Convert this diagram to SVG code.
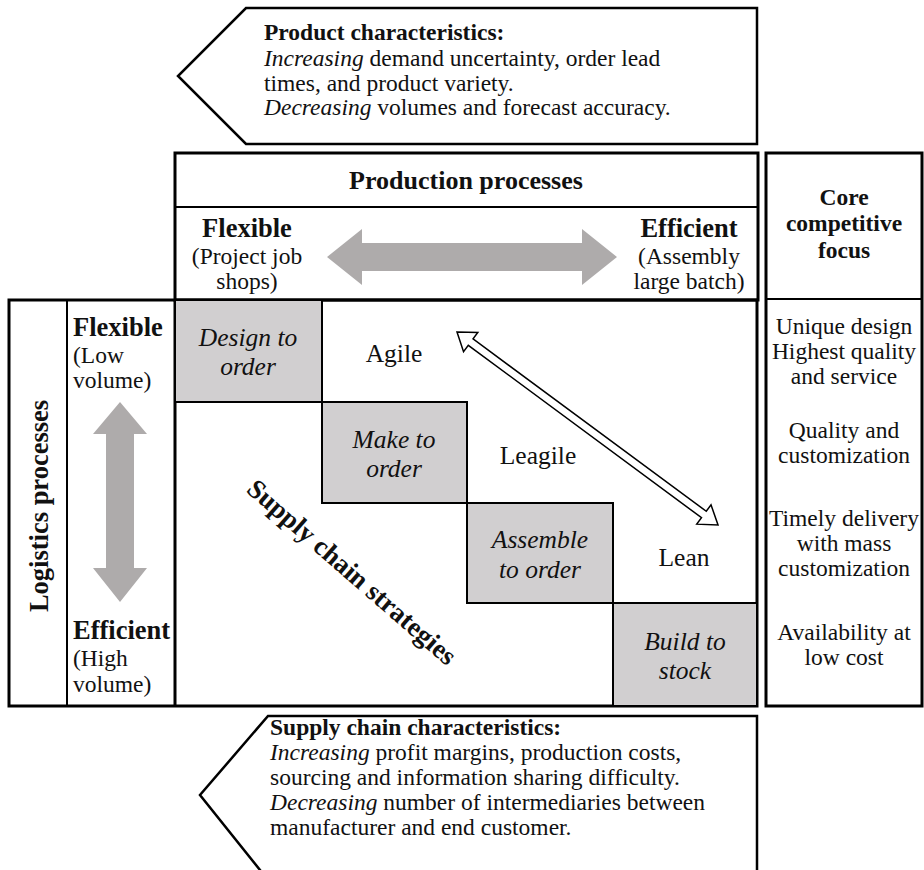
<svg xmlns="http://www.w3.org/2000/svg" width="924" height="870" viewBox="0 0 924 870">
  <style>
    text { font-family: "Liberation Serif", "Times New Roman", serif; fill: #111; }
    .body { font-size: 23.5px; }
    .bold { font-weight: bold; }
    .head { font-size: 26px; font-weight: bold; }
    .side { font-size: 26.5px; font-weight: bold; }
    .diag { font-size: 27px; font-weight: bold; }
    .cell { font-size: 25.5px; font-style: italic; }
    .lbl { font-size: 25.5px; }
    .it { font-style: italic; }
    .frame { fill: none; stroke: #000; stroke-width: 3; }
    .thin { fill: none; stroke: #000; stroke-width: 2; }
    .call { fill: #fff; stroke: #000; stroke-width: 2.5; stroke-linejoin: miter; }
    .box { fill: #d1cfd0; stroke: #000; stroke-width: 2; }
    .garrow { fill: #aeabab; stroke: none; }
    .harrow { fill: #fff; stroke: #000; stroke-width: 1.5; stroke-linejoin: miter; }
  </style>

  <!-- top callout: product characteristics -->
  <g id="product-characteristics">
    <polygon class="call" points="246,8 757,8 757,144 246,144 178,76"/>
    <text class="body" x="264" y="40"><tspan class="bold">Product characteristics:</tspan></text>
    <text class="body" x="264" y="66"><tspan class="it">Increasing</tspan> demand uncertainty, order lead</text>
    <text class="body" x="264" y="90.5">times, and product variety.</text>
    <text class="body" x="264" y="115"><tspan class="it">Decreasing</tspan> volumes and forecast accuracy.</text>
  </g>

  <!-- production processes header -->
  <g id="production-processes">
    <rect class="frame" x="175" y="153" width="583" height="147"/>
    <line class="thin" x1="175" y1="207" x2="758" y2="207"/>
    <text class="head" x="466" y="189" text-anchor="middle">Production processes</text>
    <text class="side" x="247" y="237" text-anchor="middle">Flexible</text>
    <text class="body" x="247" y="264" text-anchor="middle">(Project job</text>
    <text class="body" x="247" y="289" text-anchor="middle">shops)</text>
    <text class="side" x="689" y="237" text-anchor="middle">Efficient</text>
    <text class="body" x="689" y="264" text-anchor="middle">(Assembly</text>
    <text class="body" x="689" y="289" text-anchor="middle">large batch)</text>
  </g>

  <!-- core competitive focus column -->
  <g id="core-focus">
    <rect class="frame" x="766" y="153" width="156" height="553"/>
    <line class="thin" x1="766" y1="299" x2="922" y2="299"/>
    <g class="body" text-anchor="middle">
      <text class="bold" x="844" y="205">Core</text>
      <text class="bold" x="844" y="231">competitive</text>
      <text class="bold" x="844" y="258">focus</text>
      <text x="844" y="334">Unique design</text>
      <text x="844" y="359">Highest quality</text>
      <text x="844" y="384">and service</text>
      <text x="844" y="438">Quality and</text>
      <text x="844" y="463">customization</text>
      <text x="844" y="526">Timely delivery</text>
      <text x="844" y="551">with mass</text>
      <text x="844" y="576">customization</text>
      <text x="844" y="640">Availability at</text>
      <text x="844" y="665">low cost</text>
    </g>
  </g>

  <!-- main grid frame and logistics column -->
  <g id="logistics-processes">
    <rect class="frame" x="9" y="300" width="748" height="406"/>
    <line class="thin" x1="67" y1="300" x2="67" y2="706"/>
    <line class="frame" x1="175" y1="300" x2="175" y2="706"/>
    <text class="side" transform="translate(39,506) rotate(-90)" text-anchor="middle" dominant-baseline="central">Logistics processes</text>
    <text class="side" x="73" y="336">Flexible</text>
    <text class="body" x="73" y="363">(Low</text>
    <text class="body" x="73" y="388">volume)</text>
    <text class="side" x="73" y="639">Efficient</text>
    <text class="body" x="73" y="666">(High</text>
    <text class="body" x="73" y="692">volume)</text>
  </g>

  <!-- strategy cells -->
  <g id="design-to-order">
    <rect class="box" x="175" y="300" width="147" height="102"/>
    <text class="cell" x="248" y="346" text-anchor="middle">Design to</text>
    <text class="cell" x="248" y="375" text-anchor="middle">order</text>
  </g>
  <g id="make-to-order">
    <rect class="box" x="322" y="402" width="145" height="101"/>
    <text class="cell" x="394" y="448" text-anchor="middle">Make to</text>
    <text class="cell" x="394" y="477" text-anchor="middle">order</text>
  </g>
  <g id="assemble-to-order">
    <rect class="box" x="467" y="503" width="146" height="100"/>
    <text class="cell" x="540" y="548" text-anchor="middle">Assemble</text>
    <text class="cell" x="540" y="578" text-anchor="middle">to order</text>
  </g>
  <g id="build-to-stock">
    <rect class="box" x="613" y="603" width="144" height="103"/>
    <text class="cell" x="685" y="650" text-anchor="middle">Build to</text>
    <text class="cell" x="685" y="679" text-anchor="middle">stock</text>
  </g>

  <!-- strategy labels -->
  <g id="agile"><text class="lbl" x="394" y="362" text-anchor="middle">Agile</text></g>
  <g id="leagile"><text class="lbl" x="538" y="464" text-anchor="middle">Leagile</text></g>
  <g id="lean"><text class="lbl" x="684" y="566" text-anchor="middle">Lean</text></g>
  <g id="supply-chain-strategies">
    <text class="diag" transform="translate(352,572) rotate(41)" text-anchor="middle" dominant-baseline="central">Supply chain strategies</text>
  </g>

  <!-- bottom callout: supply chain characteristics -->
  <g id="supply-chain-characteristics">
    <polygon class="call" points="268,716 757,716 757,880 268,880 200,795"/>
    <text class="body" x="270" y="735"><tspan class="bold">Supply chain characteristics:</tspan></text>
    <text class="body" x="270" y="760"><tspan class="it">Increasing</tspan> profit margins, production costs,</text>
    <text class="body" x="270" y="785">sourcing and information sharing difficulty.</text>
    <text class="body" x="270" y="810"><tspan class="it">Decreasing</tspan> number of intermediaries between</text>
    <text class="body" x="270" y="835">manufacturer and end customer.</text>
  </g>

  <!-- connectors: double-headed arrows -->
  <g id="connectors">
    <polygon class="garrow" points="327,257 362,229 362,243 582,243 582,229 617,257 582,285 582,271 362,271 362,285"/>
    <polygon class="garrow" points="120,402 147,434 134,434 134,568 147,568 120,602 93,568 106,568 106,434 93,434"/>
    <polygon class="harrow" transform="translate(457,332) rotate(36.47)" points="0,0 17,-12 17,-4 307,-4 307,-12 324.6,0 307,12 307,4 17,4 17,12"/>
  </g>
</svg>
